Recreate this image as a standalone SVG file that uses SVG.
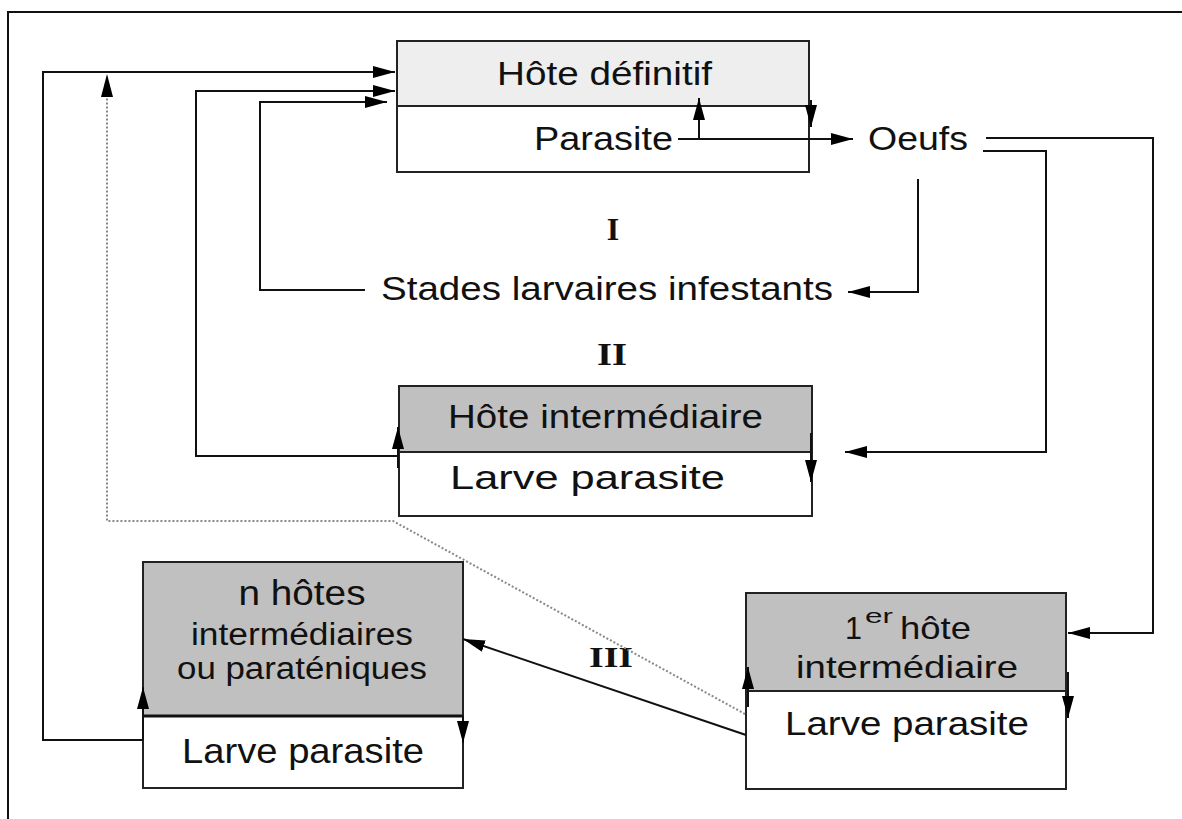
<svg xmlns="http://www.w3.org/2000/svg" width="1182" height="819" viewBox="0 0 1182 819">
<defs>
<marker id="ah" viewBox="0 0 22 12" refX="22" refY="6" markerWidth="22" markerHeight="13" markerUnits="userSpaceOnUse" orient="auto">
<path d="M0,0 L22,6 L0,12 Z" fill="#000"/>
</marker>
<style>
.box{stroke:#222;stroke-width:2;}
.light{fill:#eeeeee;}
.grey{fill:#c0c0c0;}
.white{fill:#fff;}
.ln{fill:none;stroke:#111;stroke-width:2;}
.arr{fill:none;stroke:#111;stroke-width:2;marker-end:url(#ah);}
.dot{fill:none;stroke:#888;stroke-width:2;stroke-dasharray:2 2;}
.t{font-family:"Liberation Sans",Arial,sans-serif;fill:#111;}
.r{font-family:"Liberation Serif","Times New Roman",serif;font-weight:bold;fill:#111;}
</style>
</defs>
<rect width="1182" height="819" fill="#fff"/>
<path d="M8,819 V12 H1182" fill="none" stroke="#111" stroke-width="2"/>

<g id="hote-definitif">
<rect class="box light" x="397" y="41" width="412" height="65"/>
<rect class="box white" x="397" y="106" width="412" height="66"/>
<text class="t" x="497" y="85" font-size="34" textLength="215" lengthAdjust="spacingAndGlyphs">Hôte définitif</text>
<text class="t" x="534" y="150" font-size="34" textLength="139" lengthAdjust="spacingAndGlyphs">Parasite</text>
</g>

<g id="oeufs">
<text class="t" x="868" y="150" font-size="34" textLength="100" lengthAdjust="spacingAndGlyphs">Oeufs</text>
</g>

<g id="stades">
<text class="t" x="381" y="300" font-size="34" textLength="452" lengthAdjust="spacingAndGlyphs">Stades larvaires infestants</text>
</g>

<g id="labels">
<text class="r" x="613" y="240" font-size="32" text-anchor="middle">I</text>
<text class="r" x="612" y="365" font-size="32" text-anchor="middle" textLength="30" lengthAdjust="spacingAndGlyphs">II</text>
<text class="r" x="589" y="667" font-size="30" textLength="44" lengthAdjust="spacingAndGlyphs">III</text>
</g>

<g id="hote-intermediaire">
<rect class="box grey" x="399" y="386" width="413" height="66"/>
<rect class="box white" x="399" y="452" width="413" height="64"/>
<text class="t" x="448" y="428" font-size="34" textLength="315" lengthAdjust="spacingAndGlyphs">Hôte intermédiaire</text>
<text class="t" x="450" y="489" font-size="34" textLength="275" lengthAdjust="spacingAndGlyphs">Larve parasite</text>
</g>

<g id="n-hotes">
<rect class="box grey" x="143" y="562" width="320" height="154"/>
<rect class="box white" x="143" y="716" width="320" height="72"/>
<line x1="143" y1="716" x2="463" y2="716" stroke="#111" stroke-width="3"/>
<text class="t" x="302" y="605" font-size="35" text-anchor="middle" textLength="127" lengthAdjust="spacingAndGlyphs">n hôtes</text>
<text class="t" x="191" y="645" font-size="31" textLength="222" lengthAdjust="spacingAndGlyphs">intermédiaires</text>
<text class="t" x="177" y="679" font-size="31" textLength="250" lengthAdjust="spacingAndGlyphs">ou paraténiques</text>
<text class="t" x="182" y="763" font-size="35" textLength="242" lengthAdjust="spacingAndGlyphs">Larve parasite</text>
</g>

<g id="premier-hote">
<rect class="box grey" x="746" y="593" width="320" height="98"/>
<rect class="box white" x="746" y="691" width="320" height="98"/>
<text class="t" x="845" y="639" font-size="32" textLength="17" lengthAdjust="spacingAndGlyphs">1</text>
<text class="t" x="865" y="623" font-size="20" textLength="28" lengthAdjust="spacingAndGlyphs">er</text>
<text class="t" x="900" y="639" font-size="32" textLength="71" lengthAdjust="spacingAndGlyphs">hôte</text>
<text class="t" x="796" y="678" font-size="32" textLength="222" lengthAdjust="spacingAndGlyphs">intermédiaire</text>
<text class="t" x="785" y="735" font-size="34" textLength="244" lengthAdjust="spacingAndGlyphs">Larve parasite</text>
</g>

<g id="connectors">
<path class="arr" d="M143,740 H43 V72 H395"/>
<path class="dot" d="M745,714 L393,521 H107 V96"/>
<path d="M107,74 L113,97 L101,97 Z" fill="#000"/>
<path class="arr" d="M398,456 H196 V91 H395"/>
<path class="arr" d="M365,290 H260 V102 H387"/>
<path class="arr" d="M678,139 H853"/>
<path class="arr" d="M699,139 V98"/>
<path class="arr" d="M811,100 V127"/>
<path class="arr" d="M986,138 H1153 V633 H1068"/>
<path class="arr" d="M983,151 H1046 V452 H845"/>
<path class="arr" d="M918,179 V292 H848"/>
<path class="arr" d="M398,468 V427"/>
<path class="arr" d="M811,433 V482"/>
<path class="arr" d="M143,740 V687"/>
<path class="arr" d="M463,716 V743"/>
<path class="arr" d="M746,735 L463,639"/>
<path class="arr" d="M748,707 V667"/>
<path class="arr" d="M1068,672 V718"/>
</g>
</svg>
